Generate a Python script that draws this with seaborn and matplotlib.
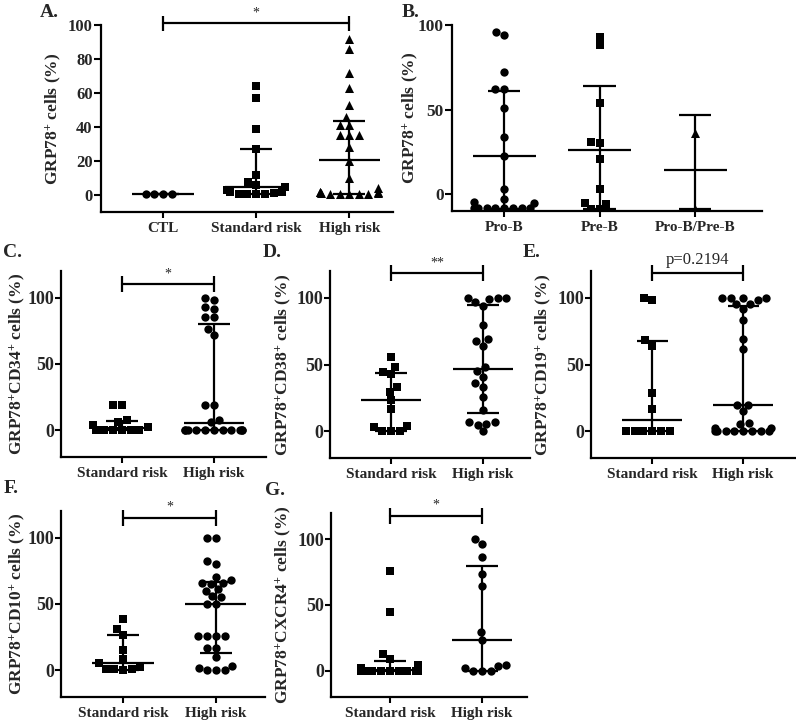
import numpy as np
import pandas as pd
import seaborn as sns
import matplotlib.pyplot as plt

sns.set_theme(style="ticks")
plt.rcParams['font.family'] = ['Liberation Serif', 'DejaVu Serif']
plt.rcParams['font.weight'] = 'bold'
plt.rcParams['mathtext.fontset'] = 'custom'
plt.rcParams['mathtext.rm'] = 'Liberation Serif:bold'
plt.rcParams['mathtext.bf'] = 'Liberation Serif:bold'
plt.rcParams['mathtext.it'] = 'Liberation Serif:bold'

# --- data ---
risk_cats = ["Standard risk", "High risk"]

# A: all patients
a_cats = ["CTL", "Standard risk", "High risk"]
a_ctl = [0.5, 0.5, 0.5, 0.5]
a_std = [64, 57, 39, 27, 12, 7.5, 6, 4.5, 3, 1.5, 1.5, 0.5, 0.3, 0.3, 0.5, 1]
a_high = [92, 86, 72, 63, 53, 46, 41, 41, 35, 35, 35, 28, 20, 10, 4,
          1.5, 1, 0.8, 0.5, 0.5, 0.5, 0.8, 1, 1.5, 2]
a_med = [0.5, 4.7, 20.5]
a_q1 = [0.5, 0.5, 0.5]
a_q3 = [0.5, 27.2, 43.8]

# B: by immunophenotype
b_cats = ["Pro-B", "Pre-B", "Pro-B/Pre-B"]
b_prob = [96, 94, 72, 62, 62, 51, 34, 22.5, 3, -3, -4.5, -5,
          -8, -8, -8, -8, -8, -8, -8, -8]
b_preb = [93, 88, 54, 31, 30, 21, 3, -6, -5.5, -9, -9]
b_mixed = [36, -9]
b_med = [22.5, 26, 14]
b_q1 = [-9, -9, -9]
b_q3 = [61, 64, 46.5]

# C: CD34
c_std = [19, 19, 8, 6, 4, 2.3, 0.3, 0.3, 0.3, 0.3, 0.3, 0.3]
c_high = [100, 98.5, 93, 91.5, 85, 85, 76, 71.5, 19, 19, 8, 6,
          0.2, 0.2, 0.2, 0.2, 0.2, 0.2, 0.2, 0.2, 0.2, 0.2, 0.2]
c_med = [1.5, 5.3]
c_q1 = [0, 0]
c_q3 = [7.3, 79.8]

# D: CD38
d_std = [56, 48.5, 44.7, 43, 33, 29.6, 23.4, 16.8, 3.8, 3, 0.3, 0.3, 0.3]
d_high = [100, 100, 100, 98.7, 97, 94.2, 79.6, 68.8, 67.6, 63.6, 48, 45.5,
          41, 36, 33.4, 26, 16, 7, 7, 5.8, 4.8, 0]
d_med = [23.4, 46.5]
d_q1 = [0.3, 13.8]
d_q3 = [43.7, 94.7]

# E: CD19
e_std = [100, 98, 68, 64, 28.5, 16.6, 0, 0, 0, 0, 0, 0]
e_high = [100, 100, 100, 100, 98, 95.5, 95, 91.5, 83, 69, 61.5, 20, 19.4,
          15, 6, 5.8, 2.3, 2.3, 0, 0, 0, 0, 0, 0, 0, 0]
e_med = [8.3, 19.4]
e_q1 = [0, 0]
e_q3 = [67.5, 94]

# F: CD10
f_std = [39, 31, 26.6, 15.3, 8.8, 5.3, 2.5, 1, 0, 0.8, 1.2]
f_high = [100, 100, 82, 80, 70, 68, 66, 66, 65, 61, 60, 56, 55, 50, 50,
          26, 26, 26, 26, 16.5, 16.5, 10, 3.3, 1.5, 0, 0, 0]
f_med = [5.8, 50]
f_q1 = [0, 12.8]
f_q3 = [26.3, 66.7]

# G: CXCR4
g_std = [76, 44.6, 12.8, 8.7, 4, 1.8, 1.8, 0, 0, 0, 0, 0, 0, 0, 0, 0, 0]
g_high = [100, 96.4, 86.5, 73.2, 64.3, 29.8, 23.5, 3.8, 4.1, 2.3, 0, 0, 0]
g_med = [0.5, 23.5]
g_q1 = [0, 0]
g_q3 = [7.4, 80]

# swarm width is 0.8 native units, so spacing groups wider packs the dots tighter
SP = 0.8 / 0.62


def draw_panel(rect, cats, groups, markers, med, q1, q3, xlim, ylim, yticks,
               ylabel, label_x, letter, letter_xy, sig=None, tick_fs=13,
               tick_len=4):
    ax = fig.add_axes(rect)
    pos = np.arange(len(cats)) * SP
    for p, vals, m in zip(pos, groups, markers):
        df = pd.DataFrame({"x": p, "value": vals})
        sns.swarmplot(data=df, x="x", y="value", native_scale=True, ax=ax,
                      marker=m, color="black", size=6.5 if m == "^" else 6,
                      linewidth=0, warn_thresh=1, zorder=2)
    ax.hlines(med, pos - 0.33 * SP, pos + 0.33 * SP, color="black", lw=1.6, zorder=3)
    ax.vlines(pos, q1, q3, color="black", lw=1.6, zorder=3)
    ax.hlines(q1, pos - 0.17 * SP, pos + 0.17 * SP, color="black", lw=1.6, zorder=3)
    ax.hlines(q3, pos - 0.17 * SP, pos + 0.17 * SP, color="black", lw=1.6, zorder=3)

    ax.set_xlim(xlim[0] * SP, xlim[1] * SP)
    ax.set_ylim(*ylim)
    ax.set_yticks(yticks)
    ax.set_xticks(pos)
    ax.set_xticklabels(cats, fontsize=11, fontweight="bold")
    ax.set_xlabel("")
    ax.set_ylabel(ylabel, fontsize=12.5, fontweight="bold")
    ax.yaxis.set_label_coords(label_x, 0.5)
    ax.tick_params(axis="both", direction="out", width=1.5, color="black")
    ax.tick_params(axis="x", labelsize=11, length=4.5, pad=3)
    ax.tick_params(axis="y", labelsize=tick_fs, length=tick_len, pad=1)
    for lab in ax.get_yticklabels():
        lab.set_fontweight("bold")
    sns.despine(ax=ax)
    for s in ["left", "bottom"]:
        ax.spines[s].set_linewidth(1.6)
        ax.spines[s].set_color("black")

    if sig is not None:
        i0, i1, y, h, txt, ty, fs = sig
        x0, x1 = pos[i0], pos[i1]
        ax.plot([x0, x1], [y, y], color="black", lw=1.6, clip_on=False)
        ax.vlines([x0, x1], y - h, y + h, color="black", lw=1.6, clip_on=False)
        ax.text((x0 + x1) / 2, ty, txt, ha="center", va="center",
                fontsize=fs, fontweight="normal", clip_on=False)

    fig.text(letter_xy[0], letter_xy[1], letter, fontsize=14,
             fontweight="bold", ha="left", va="top")
    return ax


fig = plt.figure(figsize=(7.96, 7.23), dpi=100)
fig.patch.set_facecolor("white")

draw_panel([0.1269, 0.7068, 0.3668, 0.2586], a_cats, [a_ctl, a_std, a_high],
           ["o", "s", "^"], a_med, a_q1, a_q3, (-0.667, 2.47), (-10, 100),
           [0, 20, 40, 60, 80, 100], r"GRP78$^{+}$ cells (%)", -0.130, "A.",
           (0.050, 0.995), sig=(0, 2, 101, 4.5, "*", 107, 10), tick_fs=12,
           tick_len=5)

draw_panel([0.5678, 0.7082, 0.3894, 0.2573], b_cats, [b_prob, b_preb, b_mixed],
           ["o", "s", "^"], b_med, b_q1, b_q3, (-0.545, 2.70), (-10, 100),
           [0, 50, 100], r"GRP78$^{+}$ cells (%)", -0.103, "B.", (0.505, 0.995),
           tick_fs=12.5, tick_len=5)

draw_panel([0.0766, 0.3679, 0.2575, 0.2573], risk_cats, [c_std, c_high],
           ["s", "o"], c_med, c_q1, c_q3, (-0.663, 1.565), (-20, 120),
           [0, 50, 100], r"GRP78$^{+}$CD34$^{+}$ cells (%)", -0.168, "C.",
           (0.004, 0.662), sig=(0, 1, 110, 6, "*", 118, 10))

draw_panel([0.4146, 0.3665, 0.2513, 0.2586], risk_cats, [d_std, d_high],
           ["s", "o"], d_med, d_q1, d_q3, (-0.663, 1.51), (-20, 120),
           [0, 50, 100], r"GRP78$^{+}$CD38$^{+}$ cells (%)", -0.185, "D.",
           (0.330, 0.662), sig=(0, 1, 118.5, 6, "**", 126, 10))

draw_panel([0.7425, 0.3665, 0.2575, 0.2586], risk_cats, [e_std, e_high],
           ["s", "o"], e_med, e_q1, e_q3, (-0.67, 1.58), (-20, 120),
           [0, 50, 100], r"GRP78$^{+}$CD19$^{+}$ cells (%)", -0.185, "E.",
           (0.656, 0.662), sig=(0, 1, 118.5, 6, "p=0.2194", 128.5, 12))

draw_panel([0.0766, 0.0360, 0.2563, 0.2573], risk_cats, [f_std, f_high],
           ["s", "o"], f_med, f_q1, f_q3, (-0.667, 1.53), (-20, 120),
           [0, 50, 100], r"GRP78$^{+}$CD10$^{+}$ cells (%)", -0.168, "F.",
           (0.004, 0.336), sig=(0, 1, 115, 6, "*", 123, 10))

draw_panel([0.4158, 0.0360, 0.2462, 0.2545], risk_cats, [g_std, g_high],
           ["s", "o"], g_med, g_q1, g_q3, (-0.64, 1.49), (-20, 120),
           [0, 50, 100], r"GRP78$^{+}$CXCR4$^{+}$ cells (%)", -0.194, "G.",
           (0.333, 0.333), sig=(0, 1, 117.5, 6, "*", 126, 10))

fig.savefig("out.png", dpi=100, facecolor="white")
